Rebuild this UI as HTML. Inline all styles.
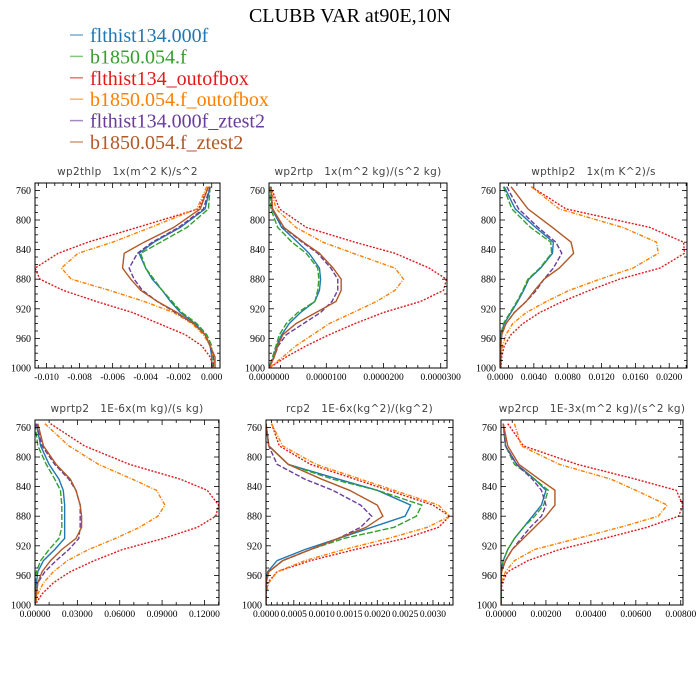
<!DOCTYPE html>
<html><head><meta charset="utf-8"><style>
html,body{margin:0;padding:0;background:#fff;}
svg{display:block;}
text{white-space:pre;}
</style></head><body>
<svg id="fig" width="700" height="700" viewBox="0 0 700 700" xmlns="http://www.w3.org/2000/svg">
<rect width="700" height="700" fill="#fff"/>
<text x="350" y="22" text-anchor="middle" font-family="Liberation Serif, serif" font-size="20" fill="#000">CLUBB VAR at90E,10N</text>
<g id="legend"></g>
<g id="panels"></g>
</svg>
<script>
const levels = [755,785,810,830,845,865,880,895,910,925,940,955,970,985,1000];
const seriesNames = ["flthist134.000f","b1850.054.f","flthist134_outofbox","b1850.054.f_outofbox","flthist134.000f_ztest2","b1850.054.f_ztest2"];
const seriesKeys = ["blue","green","red","orange","purple","brown"];
const yTicks = [760,800,840,880,920,960,1000];

const wp2thlp = {
 blue:[-0.0001,-0.0004,-0.0019,-0.0035,-0.0044,-0.0040,-0.0036,-0.0030,-0.0025,-0.0019,-0.0010,-0.0004,-0.0001,0.0000,0.0000],
 green:[-0.0001,-0.0002,-0.0015,-0.0031,-0.0043,-0.0040,-0.0035,-0.0030,-0.0024,-0.0018,-0.0009,-0.0003,0.0000,0.0000,0.0000],
 red:[-0.0002,-0.0008,-0.0045,-0.0075,-0.0093,-0.0107,-0.0104,-0.0090,-0.0070,-0.0048,-0.0032,-0.0016,-0.0006,-0.0001,0.0001],
 orange:[-0.0003,-0.0009,-0.0037,-0.0060,-0.0081,-0.0091,-0.0085,-0.0062,-0.0041,-0.0023,-0.0012,-0.0005,-0.0001,0.0001,0.0002],
 purple:[-0.0001,-0.0005,-0.0020,-0.0036,-0.0045,-0.0050,-0.0047,-0.0042,-0.0033,-0.0022,-0.0011,-0.0004,-0.0001,0.0001,0.0001],
 brown:[-0.0002,-0.0007,-0.0023,-0.0041,-0.0053,-0.0054,-0.0049,-0.0043,-0.0033,-0.0021,-0.0011,-0.0004,-0.0001,0.0002,0.0002]};
const wp2thlpTicks = [-0.010,-0.008,-0.006,-0.004,-0.002,0.000];

const wp2rtp = {
 blue:[0.3e-6,0.5e-6,2.2e-6,5.0e-6,7.0e-6,8.8e-6,9.0e-6,8.8e-6,8.0e-6,5.5e-6,3.5e-6,2.2e-6,1.3e-6,0.8e-6,0],
 green:[0.2e-6,0.3e-6,1.5e-6,4.0e-6,6.5e-6,8.5e-6,8.7e-6,8.5e-6,8.0e-6,5.0e-6,3.0e-6,1.8e-6,1.2e-6,0.6e-6,0],
 red:[0.3e-6,1.8e-6,6.5e-6,15e-6,22e-6,28e-6,31e-6,30.5e-6,26.5e-6,20e-6,15e-6,10.5e-6,6.5e-6,3.0e-6,0],
 orange:[0.3e-6,1.2e-6,4.7e-6,9.4e-6,14.7e-6,22e-6,23.5e-6,22e-6,18.8e-6,14.7e-6,10.5e-6,7.6e-6,4.7e-6,2.4e-6,0],
 purple:[0.3e-6,0.6e-6,2.5e-6,5.8e-6,8.5e-6,10.8e-6,12.0e-6,12.0e-6,11.0e-6,9.0e-6,6.0e-6,3.0e-6,1.6e-6,0.9e-6,0],
 brown:[0.3e-6,0.6e-6,2.6e-6,6.0e-6,8.8e-6,11.2e-6,12.6e-6,12.6e-6,11.7e-6,8.2e-6,4.7e-6,2.4e-6,1.5e-6,0.9e-6,0]};
const wp2rtpTicks = [0,0.00001,0.00002,0.00003];

const wpthlp2 = {
 blue:[0.0005,0.0018,0.0042,0.0063,0.0062,0.0048,0.0034,0.0028,0.0021,0.0013,0.0005,0.0001,0,0,0],
 green:[0.0004,0.0014,0.0036,0.0060,0.0061,0.0047,0.0033,0.0027,0.0020,0.0012,0.0004,0.0001,0,0,0],
 red:[0.0037,0.0078,0.0177,0.0217,0.0218,0.0189,0.0141,0.0106,0.0074,0.0047,0.0027,0.0013,0.0005,0.0002,0.0001],
 orange:[0.0037,0.0070,0.0145,0.0185,0.0187,0.0157,0.0118,0.0082,0.0055,0.0031,0.0015,0.0007,0.0003,0.0001,0],
 purple:[0.0008,0.0022,0.0045,0.0066,0.0073,0.0063,0.0052,0.0043,0.0031,0.0017,0.0007,0.0002,0.0001,0.0001,0.0001],
 brown:[0.0013,0.0033,0.0062,0.0084,0.0087,0.0070,0.0052,0.0041,0.0031,0.0017,0.0007,0.0002,0.0001,0.0001,0.0001]};
const wpthlp2Ticks = [0,0.004,0.008,0.012,0.016,0.020];

const wprtp2 = {
 blue:[0.001,0.004,0.010,0.017,0.020,0.021,0.021,0.021,0.021,0.014,0.006,0.002,0.001,0,0],
 green:[0.000,0.002,0.008,0.014,0.018,0.019,0.019,0.019,0.017,0.010,0.004,0.001,0,0,0],
 red:[0.011,0.035,0.067,0.103,0.122,0.130,0.128,0.115,0.091,0.062,0.042,0.025,0.013,0.005,0],
 orange:[0.007,0.024,0.045,0.069,0.086,0.092,0.087,0.074,0.057,0.038,0.023,0.013,0.006,0.002,0],
 purple:[0.001,0.005,0.014,0.024,0.029,0.032,0.032,0.032,0.031,0.024,0.015,0.007,0.002,0.001,0],
 brown:[0.002,0.006,0.015,0.025,0.029,0.032,0.033,0.033,0.029,0.019,0.011,0.005,0.002,0.001,0]};
const wprtp2Ticks = [0,0.03,0.06,0.09,0.12];

const rcp2 = {
 blue:[0,0.00005,0.0004,0.0013,0.0020,0.0026,0.0025,0.0019,0.0013,0.0007,0.0002,0.00003,0,0,0],
 green:[0,0.00005,0.0004,0.0012,0.0020,0.0028,0.0027,0.0023,0.0014,0.0008,0.0003,0.00005,0,0,0],
 red:[0.0001,0.00024,0.0008,0.0016,0.0022,0.0030,0.0033,0.0031,0.0025,0.0016,0.0008,0.0002,0.00003,0,0],
 orange:[0.0001,0.0003,0.0009,0.0017,0.0023,0.0031,0.0033,0.0029,0.0022,0.0014,0.0007,0.0002,0.00005,0,0],
 purple:[0,0.00005,0.0002,0.0007,0.0012,0.0017,0.0019,0.0017,0.0013,0.0008,0.0003,0.00005,0,0,0],
 brown:[0,0.00005,0.0004,0.0010,0.0015,0.0020,0.0021,0.0018,0.0013,0.0008,0.0003,0.00005,0,0,0]};
const rcp2Ticks = [0,0.0005,0.001,0.0015,0.002,0.0025,0.003];

const wp2rcp = {
 blue:[0.0001,0.0002,0.0007,0.0015,0.0020,0.0018,0.0014,0.0010,0.0006,0.0003,0.0001,0,0,0,0],
 green:[0.0001,0.0002,0.0006,0.0015,0.0021,0.0019,0.0015,0.0010,0.0006,0.0003,0.0001,0,0,0,0],
 red:[0.0003,0.0010,0.0034,0.0060,0.0078,0.0081,0.0079,0.0065,0.0046,0.0026,0.0012,0.0003,0.00005,0,0],
 orange:[0.0006,0.0009,0.0026,0.0049,0.0060,0.0074,0.0070,0.0053,0.0034,0.0015,0.0006,0.0002,0,0,0],
 purple:[0.0001,0.0002,0.0007,0.0014,0.0018,0.0020,0.0018,0.0013,0.0009,0.0005,0.0002,0,0,0,0],
 brown:[0.0001,0.0003,0.0008,0.0017,0.0024,0.0024,0.0020,0.0015,0.0010,0.0005,0.0002,0.00003,0,0,0]};
const wp2rcpTicks = [0,0.002,0.004,0.006,0.008];

const colors = {blue:"#1f78b4",green:"#33a02c",red:"#e31a1c",orange:"#ff7f00",purple:"#6a3d9a",brown:"#b15928"};
const dashes = {blue:"",green:"6,2",red:"2,1.5",orange:"4,1.5,1,1.5",purple:"5,2",brown:""};

const NS="http://www.w3.org/2000/svg";
function mk(tag,attrs,parent){const e=document.createElementNS(NS,tag);for(const k in attrs)e.setAttribute(k,attrs[k]);parent.appendChild(e);return e;}

const leg=document.getElementById('legend');
seriesKeys.forEach((k,i)=>{
  const cy=35+i*21.4;
  const g=mk('g',{},leg);
  
  
  mk('line',{x1:70,x2:83,y1:cy,y2:cy,stroke:colors[k],'stroke-width':1.5,opacity:0.6},g);
  const t=mk('text',{x:90,y:cy+7,'font-family':'Liberation Serif, serif','font-size':20,fill:colors[k]},g);
  t.textContent=seriesNames[i];
});

const panels=[
 {name:'wp2thlp',title:'wp2thlp   1x(m^2 K)/s^2',data:wp2thlp,ticks:wp2thlpTicks,dec:3,x0:35,x1:220,y0:183,y1:368,xmin:-0.0107,xmax:0.0005,minor:4},
 {name:'wp2rtp',title:'wp2rtp   1x(m^2 kg)/(s^2 kg)',data:wp2rtp,ticks:wp2rtpTicks,dec:7,x0:269,x1:447,y0:183,y1:368,xmin:-0.00000002,xmax:0.0000311,minor:5},
 {name:'wpthlp2',title:'wpthlp2   1x(m K^2)/s',data:wpthlp2,ticks:wpthlp2Ticks,dec:4,x0:500,x1:687,y0:183,y1:368,xmin:0,xmax:0.0221,minor:4},
 {name:'wprtp2',title:'wprtp2   1E-6x(m kg)/(s kg)',data:wprtp2,ticks:wprtp2Ticks,dec:5,x0:35,x1:219,y0:420,y1:605,xmin:0,xmax:0.1303,minor:3},
 {name:'rcp2',title:'rcp2   1E-6x(kg^2)/(kg^2)',data:rcp2,ticks:rcp2Ticks,dec:4,x0:266,x1:453,y0:420,y1:605,xmin:0,xmax:0.00336,minor:5},
 {name:'wp2rcp',title:'wp2rcp   1E-3x(m^2 kg)/(s^2 kg)',data:wp2rcp,ticks:wp2rcpTicks,dec:5,x0:501,x1:683,y0:420,y1:605,xmin:0,xmax:0.0081,minor:4}
];

const root=document.getElementById('panels');
panels.forEach(p=>{
  const g=mk('g',{},root);
  
  
  const xs=v=>p.x0+(v-p.xmin)/(p.xmax-p.xmin)*(p.x1-p.x0);
  const ys=v=>p.y0+(v-750)/250*(p.y1-p.y0);
  const t=mk('text',{x:(p.x0+p.x1)/2,y:p.y0-8,'text-anchor':'middle','font-family':'DejaVu Sans, sans-serif','font-size':10.5,'letter-spacing':0.3,fill:'#444'},g);
  
  
  t.textContent=p.title;
  const clipId='clip-'+p.name;
  const cp=mk('clipPath',{id:clipId},g);
  mk('rect',{x:p.x0,y:p.y0,width:p.x1-p.x0,height:p.y1-p.y0},cp);
  const lines=mk('g',{'clip-path':'url(#'+clipId+')'},g);
  seriesKeys.forEach(k=>{
    const pts=p.data[k].map((v,i)=>xs(v).toFixed(2)+','+ys(levels[i]).toFixed(2)).join(' ');
    const pl=mk('polyline',{points:pts,fill:'none',stroke:colors[k],'stroke-width':1.4,'stroke-dasharray':dashes[k]},lines);
    
    
  });
  for(let pv=750;pv<=1000;pv+=10){
    const y=ys(pv); const major=yTicks.includes(pv); const L=major?5:3;
    mk('line',{x1:p.x0,x2:p.x0+L,y1:y,y2:y,stroke:'#000','stroke-width':0.8},g);
    mk('line',{x1:p.x1,x2:p.x1-L,y1:y,y2:y,stroke:'#000','stroke-width':0.8},g);
  }
  yTicks.forEach(v=>{
    const tl=mk('text',{x:p.x0-4,y:ys(v)+3.5,'text-anchor':'end','font-family':'Liberation Serif, serif','font-size':10,fill:'#000'},g);
    
    
    tl.textContent=v;
  });
  const step=p.ticks[1]-p.ticks[0];
  const first=p.ticks[0]-step*3, last=p.ticks[p.ticks.length-1]+step*3;
  for(let v=first;v<=last+1e-12;v+=step/p.minor){
    const x=xs(v); if(x<p.x0-0.1||x>p.x1+0.1)continue;
    const idx=Math.round((v-p.ticks[0])/(step/p.minor));
    const L=(idx%p.minor===0)?5:3;
    mk('line',{x1:x,x2:x,y1:p.y1,y2:p.y1-L,stroke:'#000','stroke-width':0.8},g);
    mk('line',{x1:x,x2:x,y1:p.y0,y2:p.y0+L,stroke:'#000','stroke-width':0.8},g);
  }
  p.ticks.forEach(v=>{
    const tl=mk('text',{x:xs(v),y:p.y1+12,'text-anchor':'middle','font-family':'Liberation Serif, serif','font-size':9.5,fill:'#000'},g);
    
    
    tl.textContent=v.toFixed(p.dec);
  });
  mk('rect',{x:p.x0,y:p.y0,width:p.x1-p.x0,height:p.y1-p.y0,fill:'none',stroke:'#000','stroke-width':1},g);
});
</script>
</body></html>
